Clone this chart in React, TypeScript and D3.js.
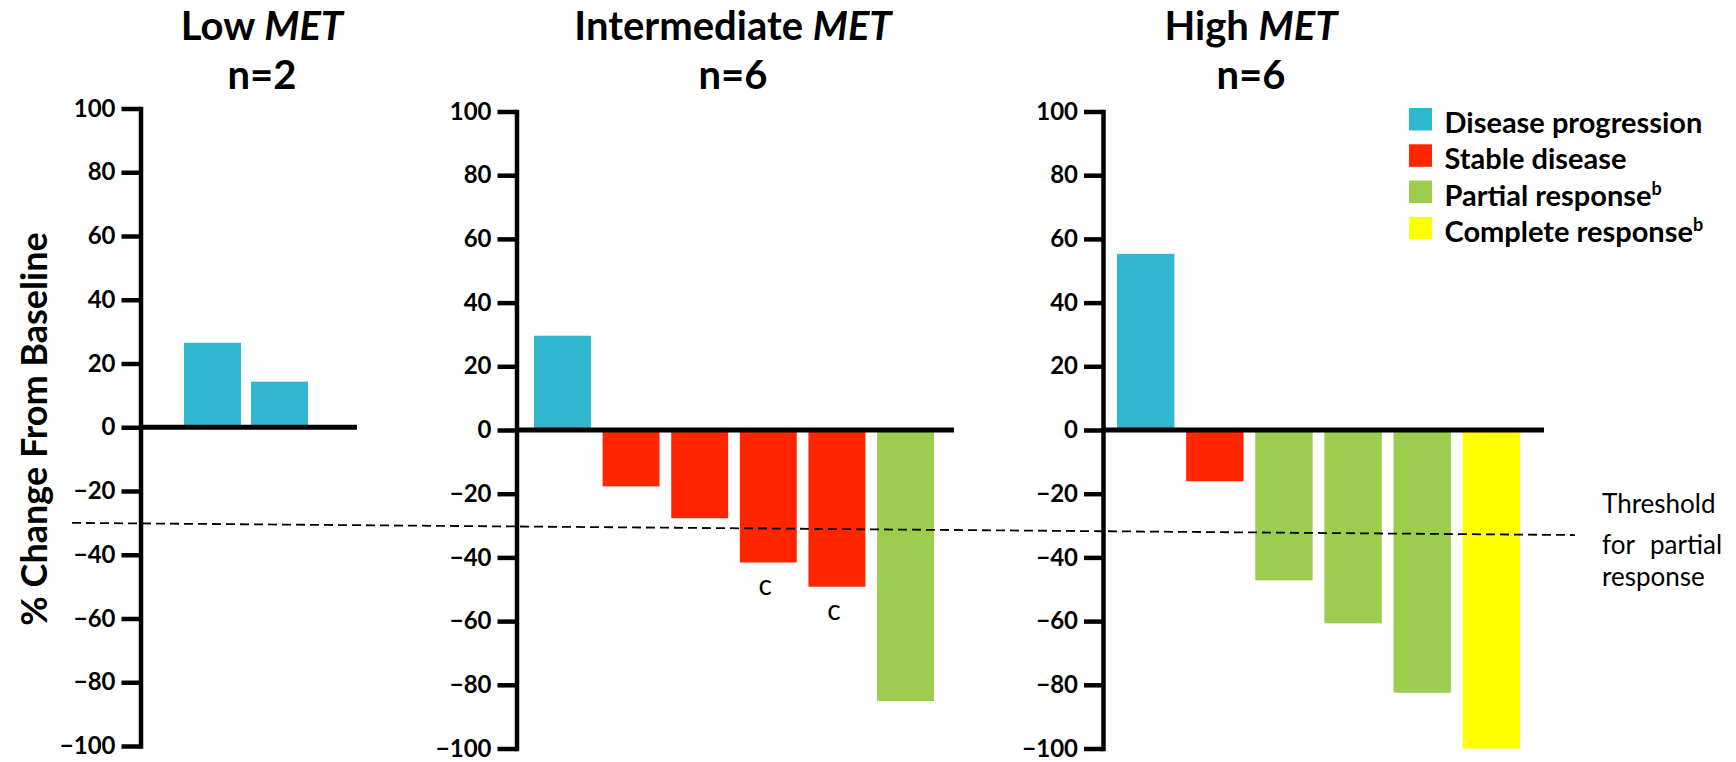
import React, { useRef, useEffect } from 'react';
import * as d3 from 'd3';

// response categories + legend
const responseKeys = ['PD', 'SD', 'PR', 'CR'];
const legendLabels = ['Disease progression', 'Stable disease', 'Partial response', 'Complete response'];
const legendSup = ['', '', 'b', 'b'];
const responseColors = ['#30b8d0', '#ff2600', '#9ccd4f', '#ffff00'];

// panels
const panelNames = ['Low', 'Intermediate', 'High'];
const panelCounts = [2, 6, 6];

const lowValues = [26.5, 14.3];
const lowResponses = ['PD', 'PD'];
const lowNotes = ['', ''];

const intermediateValues = [29.6, -17.7, -27.7, -41.6, -49.2, -85.1];
const intermediateResponses = ['PD', 'SD', 'SD', 'SD', 'SD', 'PR'];
const intermediateNotes = ['', '', '', 'c', 'c', ''];

const highValues = [55.3, -16.1, -47.2, -60.7, -82.5, -100];
const highResponses = ['PD', 'SD', 'PR', 'PR', 'PR', 'CR'];
const highNotes = ['', '', '', '', '', ''];

const yTicks = [100, 80, 60, 40, 20, 0, -20, -40, -60, -80, -100];
const yLabel = '% Change From Baseline';
const thresholdValue = -30;
const thresholdText = ['Threshold', 'for partial', 'response'];

// layout only (pixels)
const layout = [
  { axisX: 140.5, yTop: 108.5, yBottom: 746, barStart: 184, barEnd: 308, zeroEnd: 357, titleX: 262 },
  { axisX: 516.5, yTop: 111.5, yBottom: 748.5, barStart: 534, barEnd: 934, zeroEnd: 954, titleX: 733 },
  { axisX: 1103, yTop: 111.5, yBottom: 748.5, barStart: 1117, barEnd: 1520, zeroEnd: 1544, titleX: 1251 },
];

const FONT = 'Lato, "Open Sans", sans-serif';

const fmt = (d: number) => (d < 0 ? '\u2212' + Math.abs(d) : String(d));

const WaterfallChart = ({ width = 1736, height = 762 }) => {
  const svgRef = useRef<SVGSVGElement>(null);

  useEffect(() => {
    if (!svgRef.current) return;
    const svg = d3.select(svgRef.current);
    svg.selectAll('*').remove();

    const panelData = [
      { values: lowValues, responses: lowResponses, notes: lowNotes },
      { values: intermediateValues, responses: intermediateResponses, notes: intermediateNotes },
      { values: highValues, responses: highResponses, notes: highNotes },
    ];

    const color = d3.scaleOrdinal<string, string>().domain(responseKeys).range(responseColors);
    const yScales: d3.ScaleLinear<number, number>[] = [];

    panelData.forEach((p, i) => {
      const L = layout[i];
      const rows = p.values.map((v, j) => ({ id: j, value: v, resp: p.responses[j], note: p.notes[j] }));

      const y = d3.scaleLinear().domain([-100, 100]).range([L.yBottom, L.yTop]);
      yScales.push(y);
      const x = d3.scaleBand<number>()
        .domain(rows.map(r => r.id))
        .range([L.barStart, L.barEnd])
        .paddingInner(rows.length > 2 ? 0.17 : 0.15)
        .paddingOuter(0);

      const g = svg.append('g');

      // bars
      g.selectAll('rect.bar')
        .data(rows)
        .enter()
        .append('rect')
        .attr('class', 'bar')
        .attr('x', d => x(d.id)!)
        .attr('width', x.bandwidth())
        .attr('y', d => y(Math.max(0, d.value)))
        .attr('height', d => Math.abs(y(d.value) - y(0)))
        .attr('fill', d => color(d.resp));

      // footnote letters under bars
      g.selectAll('text.note')
        .data(rows.filter(r => r.note))
        .enter()
        .append('text')
        .attr('x', d => x(d.id)! + x.bandwidth() / 2 - 3)
        .attr('y', d => y(d.value) + 33)
        .attr('text-anchor', 'middle')
        .style('font-family', FONT)
        .style('font-size', '28px')
        .text(d => d.note);

      // y axis
      const axis = g.append('g')
        .attr('transform', `translate(${L.axisX},0)`)
        .call(
          d3.axisLeft(y)
            .tickValues(yTicks)
            .tickSize(19)
            .tickSizeOuter(0)
            .tickPadding(6)
            .tickFormat(d => fmt(+d))
        );
      axis.select('.domain')
        .attr('stroke', '#000')
        .attr('stroke-width', 4.5)
        .attr('stroke-linecap', 'square');
      axis.selectAll('.tick line')
        .attr('stroke', '#000')
        .attr('stroke-width', 4.5);
      axis.selectAll('.tick text')
        .attr('fill', '#000')
        .style('font-family', FONT)
        .style('font-size', '24px')
        .style('font-weight', 700);

      // zero baseline
      g.append('line')
        .attr('x1', L.axisX)
        .attr('x2', L.zeroEnd)
        .attr('y1', y(0))
        .attr('y2', y(0))
        .attr('stroke', '#000')
        .attr('stroke-width', 5);

      // title
      const t1 = g.append('text')
        .attr('x', L.titleX)
        .attr('y', 40)
        .attr('text-anchor', 'middle')
        .style('font-family', FONT)
        .style('font-size', '40px')
        .style('font-weight', 700);
      t1.append('tspan').text(panelNames[i] + ' ');
      t1.append('tspan').style('font-style', 'italic').text('MET');
      g.append('text')
        .attr('x', L.titleX)
        .attr('y', 89)
        .attr('text-anchor', 'middle')
        .style('font-family', FONT)
        .style('font-size', '40px')
        .style('font-weight', 700)
        .text(`n=${panelCounts[i]}`);
    });

    // threshold dashed line (slightly drifts downward across the figure)
    svg.append('line')
      .attr('x1', 72)
      .attr('x2', 1575)
      .attr('y1', yScales[0](thresholdValue))
      .attr('y2', yScales[2](thresholdValue) + 9.5)
      .attr('stroke', '#000')
      .attr('stroke-width', 1.8)
      .attr('stroke-dasharray', '9,5');

    const thr = svg.append('text')
      .style('font-family', FONT)
      .style('font-size', '26px');
    const thrY = [513, 554, 586];
    thresholdText.forEach((s, k) => {
      thr.append('tspan')
        .attr('x', 1602)
        .attr('y', thrY[k])
        .style('word-spacing', k === 1 ? '9px' : '0px')
        .text(s);
    });

    // y label
    svg.append('text')
      .attr('transform', 'translate(47,429) rotate(-90)')
      .attr('text-anchor', 'middle')
      .style('font-family', FONT)
      .style('font-size', '36px')
      .style('font-weight', 700)
      .text(yLabel);

    // legend
    const legend = svg.append('g').attr('transform', 'translate(1409,108)');
    legendLabels.forEach((lab, k) => {
      legend.append('rect')
        .attr('x', 0)
        .attr('y', k * 36.3)
        .attr('width', 23)
        .attr('height', 22.5)
        .attr('fill', responseColors[k]);
      const tx = legend.append('text')
        .attr('x', 35.5)
        .attr('y', k * 36.3 + 25)
        .style('font-family', FONT)
        .style('font-size', '29px')
        .style('font-weight', 700);
      tx.append('tspan').text(lab);
      if (legendSup[k]) {
        tx.append('tspan')
          .attr('dy', -11)
          .style('font-size', '18px')
          .text(legendSup[k]);
      }
    });
  }, [width, height]);

  return (
    <svg
      ref={svgRef}
      width={width}
      height={height}
      style={{ position: 'absolute', left: 0, top: 0, background: '#fff', display: 'block' }}
    />
  );
};

export default function App() {
  return <WaterfallChart />;
}
